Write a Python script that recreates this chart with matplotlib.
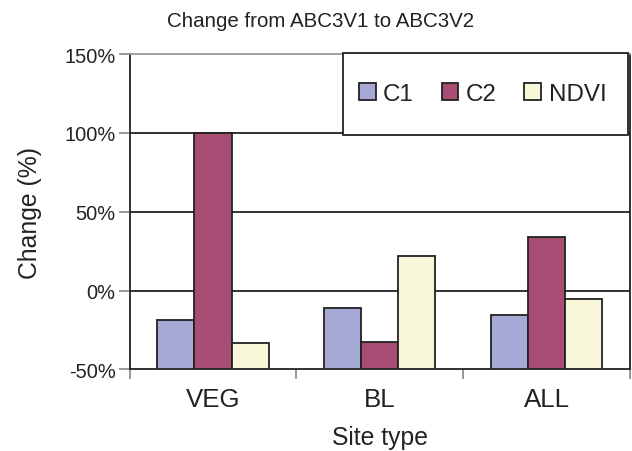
import numpy as np
import matplotlib.pyplot as plt
from matplotlib.patches import Rectangle

plt.rcParams['font.family'] = ['Liberation Sans', 'DejaVu Sans']

# percent change per site type
sites = ["VEG", "BL", "ALL"]
series = ["C1", "C2", "NDVI"]
c1 = [-18.4, -11.0, -15.4]
c2 = [100.0, -32.5, 34.2]
ndvi = [-33.6, 22.2, -5.5]
yticks = [-50, 0, 50, 100, 150]
ytick_labels = ["-50%", "0%", "50%", "100%", "150%"]

colors = ["#a6a9d6", "#a84e74", "#f8f7da"]
edge = "#222222"
base = -50  # bars rise from the bottom of the value axis

fig = plt.figure(figsize=(6.32, 4.52), dpi=100)
ax = fig.add_axes([0.205, 0.1807, 0.792, 0.6975])

x = np.arange(len(sites))
w = 0.222
bars = []
for k, (vals, col) in enumerate(zip([c1, c2, ndvi], colors)):
    vals = np.asarray(vals)
    b = ax.bar(x + (k - 1) * w, vals - base, w, bottom=base, color=col,
               edgecolor=edge, linewidth=1.3, zorder=3, label=series[k])
    bars.append(b)

ax.set_xlim(-0.5, 2.5)
ax.set_ylim(-50, 150)

# horizontal gridlines
for yv in [0, 50, 100]:
    ax.axhline(yv, color=edge, linewidth=1.3, zorder=1)

ax.set_yticks(yticks)
ax.set_yticklabels(ytick_labels, fontsize=14.4, color="#222222")
ax.tick_params(axis="y", direction="out", length=8, width=1.2, color="#888888", pad=2)

ax.set_xticks(x)
ax.set_xticklabels(sites, fontsize=18.6, color="#222222")
ax.tick_params(axis="x", which="major", length=0, pad=13)
ax.set_xticks([-0.5, 0.5, 1.5, 2.5], minor=True)
ax.tick_params(axis="x", which="minor", direction="out", length=7, width=1.2, color="#888888")

for side in ["left", "right", "bottom"]:
    ax.spines[side].set_color(edge)
    ax.spines[side].set_linewidth(1.3)
ax.spines["top"].set_color("#999999")
ax.spines["top"].set_linewidth(1.3)

ax.set_xlabel("Site type", fontsize=17.8, color="#222222", labelpad=10)
ax.set_ylabel("Change (%)", fontsize=17.8, color="#222222", labelpad=16)

fig.text(0.508, 0.952, "Change from ABC3V1 to ABC3V2", ha="center", va="center",
         fontsize=14.8, color="#222222")

# legend box in the upper right corner
lx0, ly0, lx1, ly1 = 0.4266, 0.744, 0.996, 1.003
ax.add_patch(Rectangle((lx0, ly0), lx1 - lx0, ly1 - ly0, transform=ax.transAxes,
                       facecolor="white", edgecolor=edge, linewidth=1.3,
                       zorder=5, clip_on=False))
leg = ax.legend(handles=bars, labels=series, loc="center",
                bbox_to_anchor=((lx0 + lx1) / 2 - 0.006, (ly0 + ly1) / 2),
                ncol=3, frameon=False, fontsize=17.4,
                handlelength=0.7, handleheight=0.7, handletextpad=0.3,
                columnspacing=1.15, borderpad=0)
leg.set_zorder(6)
for t in leg.get_texts():
    t.set_color("#222222")

fig.savefig("out.png", dpi=100)
